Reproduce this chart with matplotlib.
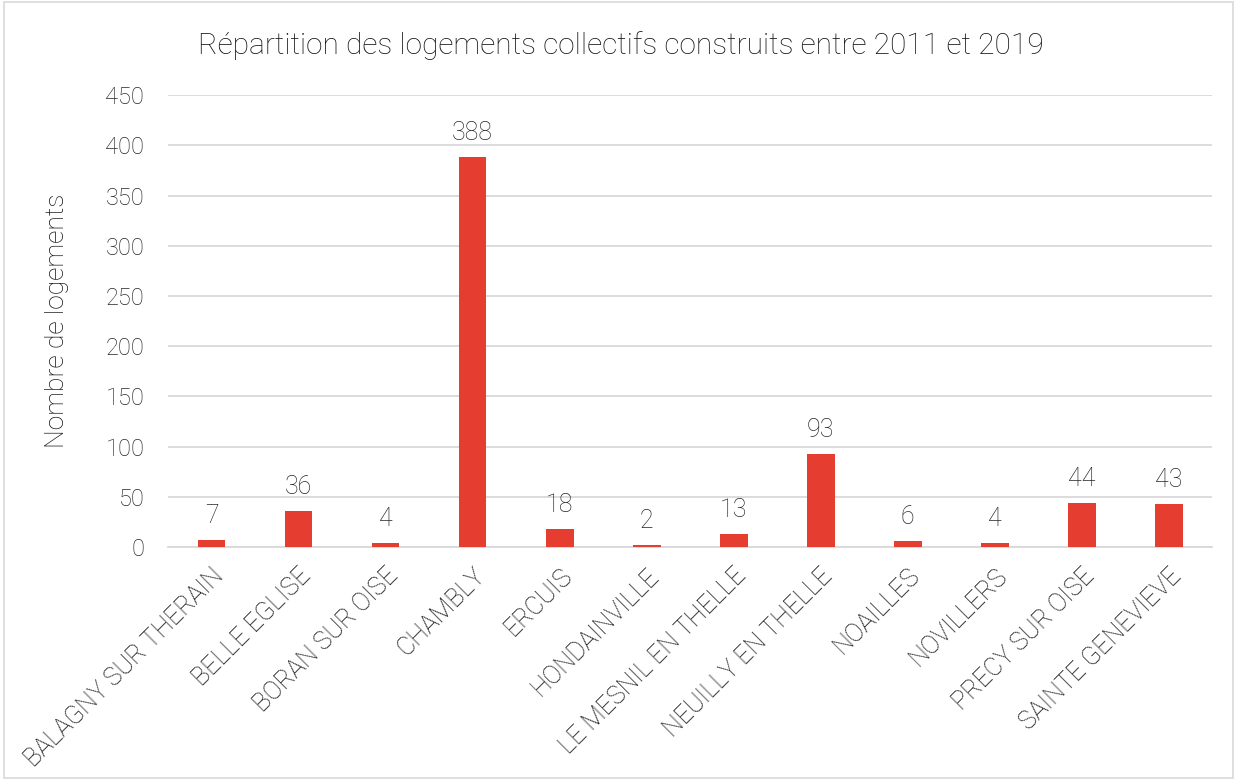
import numpy as np
import matplotlib.pyplot as plt
from matplotlib.patches import Rectangle

communes = ["BALAGNY SUR THERAIN", "BELLE EGLISE", "BORAN SUR OISE", "CHAMBLY",
            "ERCUIS", "HONDAINVILLE", "LE MESNIL EN THELLE", "NEUILLY EN THELLE",
            "NOAILLES", "NOVILLERS", "PRECY SUR OISE", "SAINTE GENEVIEVE"]
logements = [7, 36, 4, 388, 18, 2, 13, 93, 6, 4, 44, 43]
yticks = [0, 50, 100, 150, 200, 250, 300, 350, 400, 450]

plt.rcParams['font.family'] = ['Roboto', 'DejaVu Sans']
plt.rcParams['font.weight'] = 'light'
plt.rcParams['axes.labelweight'] = 'light'

fig = plt.figure(figsize=(12.37, 7.8), dpi=100)
ax = fig.add_axes([0.1358, 0.2987, 0.8442, 0.5793])

x = np.arange(len(communes))
ax.bar(x, logements, width=0.32, color='#E53D30', zorder=3)

# valeurs au-dessus des barres
for xi, v in zip(x, logements):
    ax.text(xi, v + 12, str(v), ha='center', va='bottom', fontsize=18,
            color='#262626', fontweight='light')

ax.set_xlim(-0.5, len(communes) - 0.5)
ax.set_ylim(0, 450)
ax.set_yticks(yticks)
ax.set_yticklabels([str(t) for t in yticks], fontsize=17, color='#262626')
ax.set_xticks(x)
ax.set_xticklabels(communes, rotation=45, ha='right', va='top',
                   rotation_mode='anchor', fontsize=18, color='#111111')
ax.tick_params(axis='y', length=0, pad=17)
ax.tick_params(axis='x', length=0, pad=12)

ax.grid(axis='y', color='#D9D9D9', linewidth=1.3, zorder=0)
for s in ['top', 'right', 'left']:
    ax.spines[s].set_visible(False)
ax.spines['bottom'].set_color('#D9D9D9')
ax.spines['bottom'].set_linewidth(1.3)

ax.set_ylabel("Nombre de logements", fontsize=19, color='#111111', labelpad=26,
              fontweight='light')
fig.text(0.502, 0.942, "Répartition des logements collectifs construits entre 2011 et 2019",
         ha='center', va='center', fontsize=21.5, color='#111111')

fig.patches.append(Rectangle((0.003, 0.003), 0.994, 0.994, transform=fig.transFigure,
                             fill=False, edgecolor='#D9D9D9', linewidth=1.2))

fig.savefig("out.png", dpi=100)
